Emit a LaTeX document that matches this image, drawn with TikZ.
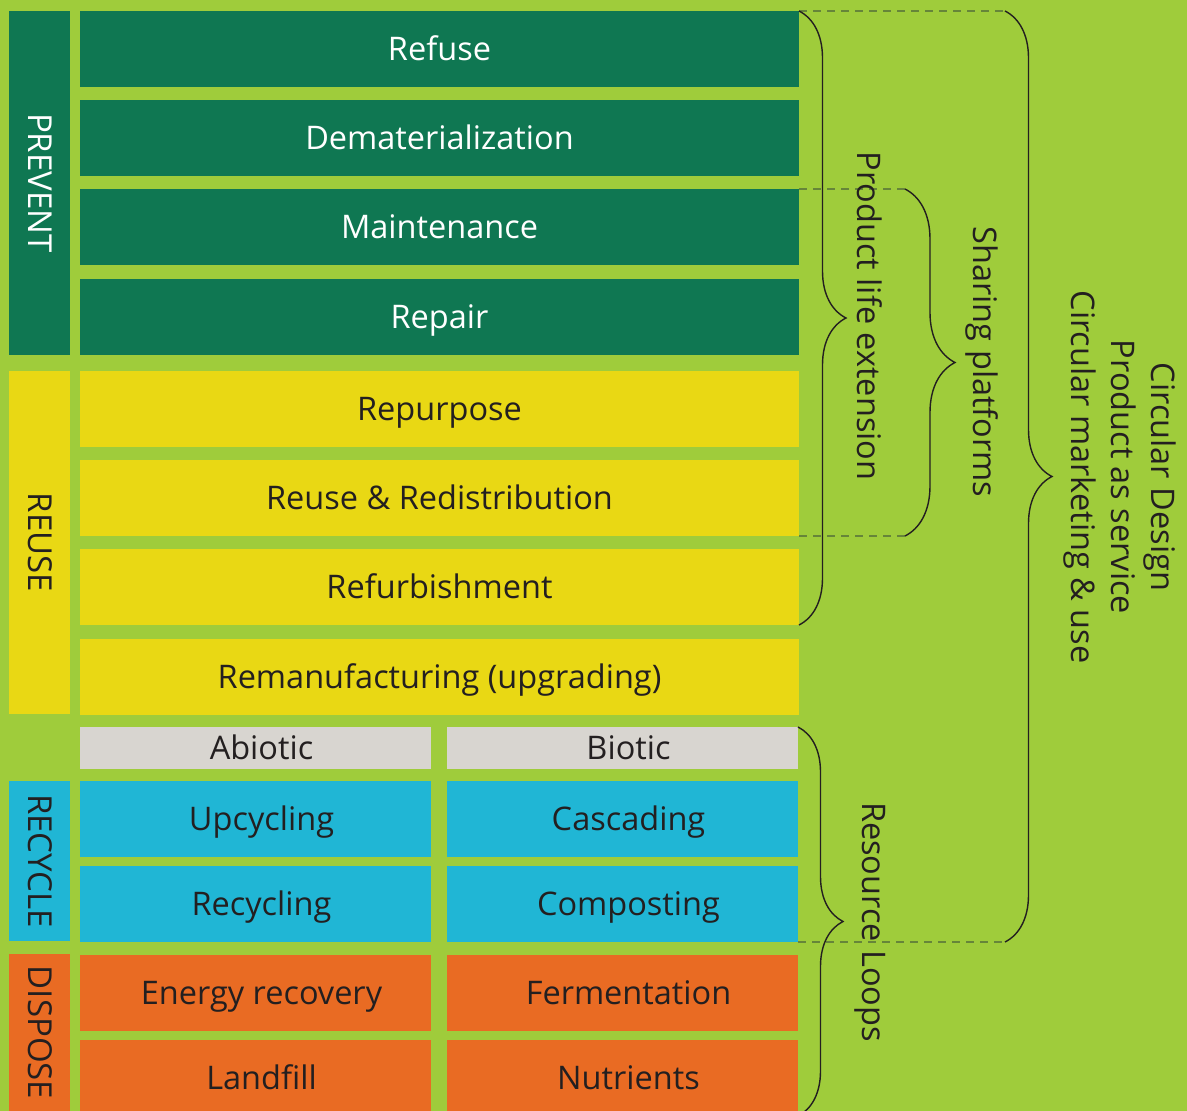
\documentclass[tikz,border=0pt]{standalone}
\usepackage{fontspec}
\setmainfont{Open Sans}
\usepackage{xcolor}
\usepackage{tikz}
\usetikzlibrary{arrows.meta,decorations.pathreplacing,positioning}

\definecolor{leaf}{HTML}{9FCC3B}
\definecolor{forest}{HTML}{0F7752}
\definecolor{lemon}{HTML}{E9D814}
\definecolor{stone}{HTML}{D8D5D0}
\definecolor{aqua}{HTML}{20B6D5}
\definecolor{rust}{HTML}{E96B23}
\definecolor{ink}{HTML}{231F20}
\definecolor{olive}{HTML}{668539}

\tikzset{
  row/.style={rectangle, inner sep=0pt, outer sep=0pt, minimum width=719pt, minimum height=76pt, text height=23pt, text depth=0pt, font=\fontsize{32.5}{38}\selectfont},
  half/.style={row, minimum width=351pt, execute at begin node=\hspace*{12pt}},
  head/.style={half, fill=stone, text=ink, minimum height=42pt},
  side/.style={rectangle, inner sep=0pt, outer sep=0pt, rotate=-90, minimum height=61pt, text height=23pt, text depth=0pt, font=\fontsize{33}{38}\selectfont},
  note/.style={rotate=-90, inner sep=0pt, text=ink, font=\fontsize{32.5}{40}\selectfont, align=center},
  curly/.style={decorate, decoration={brace, amplitude=#1}, draw=ink, line width=1.4pt},
  guide/.style={draw=olive, dashed, dash pattern=on 8pt off 6pt, line width=2.4pt}
}

\begin{document}
\begin{tikzpicture}[x=1pt, y=-1pt]
    \useasboundingbox (0,0) rectangle (1187,1111);
    \clip (0,0) rectangle (1187,1111);
    \fill[leaf] (0,0) rectangle (1187,1111);

    % side bars
    \node(prevent) at (39.5,183) [side, fill=forest, text=white, minimum width=344pt] {PREVENT};
    \node(reusebar) at (39.5,542.5) [side, fill=lemon, text=ink, minimum width=343pt] {REUSE};
    \node(recyclebar) at (39.5,861) [side, fill=aqua, text=ink, minimum width=160pt] {RECYCLE};
    \node(disposebar) at (39.5,1032.5) [side, fill=rust, text=ink, minimum width=157pt] {DISPOSE};

    % prevent rows
    \node(refuse) at (439.5,49) [row, fill=forest, text=white] {Refuse};
    \node(demat) [below=13pt of refuse, row, fill=forest, text=white] {Dematerialization};
    \node(maint) [below=13pt of demat, row, fill=forest, text=white] {Maintenance};
    \node(repair) [below=14pt of maint, row, fill=forest, text=white] {Repair};

    % reuse rows
    \node(repurpose) [below=16pt of repair, row, fill=lemon, text=ink] {Repurpose};
    \node(redist) [below=13pt of repurpose, row, fill=lemon, text=ink] {Reuse \& Redistribution};
    \node(refurb) [below=13pt of redist, row, fill=lemon, text=ink] {Refurbishment};
    \node(reman) [below=14pt of refurb, row, fill=lemon, text=ink] {Remanufacturing (upgrading)};

    % abiotic / biotic
    \node(abiotic) at (255.5,748) [head] {Abiotic};
    \node(biotic) [right=16pt of abiotic, head] {Biotic};

    \node(upcycling) at (255.5,819) [half, fill=aqua, text=ink] {Upcycling};
    \node(cascading) [right=16pt of upcycling, half, fill=aqua, text=ink] {Cascading};
    \node(recycling) [below=9pt of upcycling, half, fill=aqua, text=ink] {Recycling};
    \node(composting) [below=9pt of cascading, half, fill=aqua, text=ink] {Composting};

    \node(energy) [below=13pt of recycling, half, fill=rust, text=ink] {Energy recovery};
    \node(fermentation) [below=13pt of composting, half, fill=rust, text=ink] {Fermentation};
    \node(landfill) [below=9pt of energy, half, fill=rust, text=ink] {Landfill};
    \node(nutrients) [below=9pt of fermentation, half, fill=rust, text=ink] {Nutrients};

    % dashed guides
    \draw[guide] (refuse.north east) -- ++(206,0) coordinate (cdtop);
    \draw[guide] (composting.south east) -- ++(207,0) coordinate (cdbot);
    \draw[guide] (maint.north east) -- ++(106,0) coordinate (sptop);
    \draw[guide] (redist.south east) -- ++(106,0) coordinate (spbot);

    % braces
    \draw[curly=47pt] (refuse.north east) -- (refurb.south east);
    \draw[curly=50pt] (sptop) -- (spbot);
    \draw[curly=47pt] (cdtop) -- (cdbot);
    \draw[curly=45pt] (biotic.north east) -- (nutrients.south east);

    % brace labels
    \node(lifeext) at (870,316) [note] {Product life extension};
    \node(sharing) at (982,362) [note] {Sharing platforms};
    \node(circular) at (1120,477) [note] {Circular Design\\Product as service\\Circular marketing \& use};
    \node(loops) at (870,922) [note] {Resource Loops};
\end{tikzpicture}
\end{document}
